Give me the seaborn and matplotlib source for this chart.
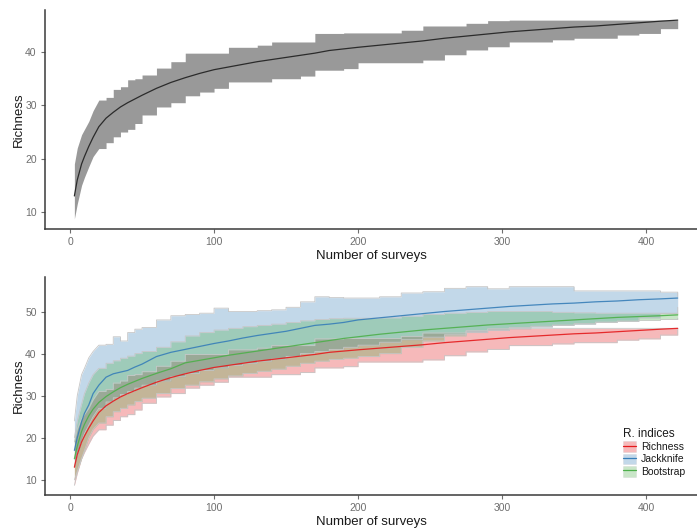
import numpy as np
import pandas as pd
import matplotlib
matplotlib.use("Agg")
import matplotlib.pyplot as plt
import seaborn as sns
from matplotlib.patches import Patch
from matplotlib.lines import Line2D

# ---------------- data ----------------
surveys = [3, 5, 8, 10, 13, 16, 20, 25, 30, 35, 40, 45, 50, 60, 70, 80, 90, 100,
           110, 120, 130, 140, 150, 160, 170, 180, 190, 200, 215, 230, 245, 260,
           275, 290, 305, 320, 335, 350, 365, 380, 395, 410, 422]

richness_mean = [13, 16, 19, 20.4, 22.3, 24, 26, 27.6, 28.7, 29.7, 30.5, 31.2, 31.9,
                 33.2, 34.3, 35.2, 36, 36.7, 37.2, 37.7, 38.2, 38.6, 39, 39.4, 39.8,
                 40.3, 40.6, 40.9, 41.3, 41.7, 42.1, 42.6, 43, 43.4, 43.8, 44.1, 44.4,
                 44.7, 44.9, 45.2, 45.5, 45.8, 46]
richness_upper = [19, 22, 24.5, 25.5, 27, 29, 31, 31.5, 33, 33.5, 34.8, 35, 35.7,
                  37, 38.2, 39.8, 39.8, 39.8, 40.9, 40.9, 41.3, 41.9, 41.9, 41.9, 43.5,
                  43.5, 43.6, 43.6, 43.6, 44.1, 44.9, 44.9, 45.4, 45.9, 46, 46, 46,
                  46, 46, 46, 46, 46, 46]
richness_lower = [8.7, 11.5, 15, 16.5, 18.5, 20.4, 21.9, 23, 24.1, 25, 25.5, 26.6, 28.2,
                  29.7, 30.5, 31.8, 32.5, 33.2, 34.4, 34.4, 34.4, 35, 35, 35.5, 36.6,
                  36.6, 36.9, 38, 38, 38, 38.5, 39.5, 40.4, 41, 41.9, 41.9, 42.3,
                  42.6, 42.6, 43.2, 43.5, 44.4, 46]

jack_mean = [17, 20, 23.8, 25.8, 27.8, 30.5, 32.5, 34.4, 35.2, 35.6, 36, 36.8, 37.5,
             39.3, 40.3, 41, 41.7, 42.4, 43, 43.7, 44.3, 44.8, 45.3, 46, 46.7, 47,
             47.4, 48, 48.5, 49, 49.5, 50, 50.4, 50.8, 51.2, 51.5, 51.8, 52, 52.3,
             52.5, 52.8, 53, 53.2]
jack_upper = [24, 30, 35, 36.5, 39, 40.5, 42, 42.2, 44, 43, 45, 45.8, 46.2, 48, 49,
              49.3, 49.6, 50.8, 50, 50, 50.2, 50.4, 51, 52.3, 53.5, 53.3, 53.2, 53.2,
              53.5, 54.4, 54.7, 55.5, 55.9, 55.4, 55.9, 55.9, 55.9, 54.9, 54.9, 54.9,
              54.9, 54.6, 53.5]
jack_lower = [13, 16, 19, 21, 23, 25, 27, 28.5, 29.5, 30.3, 31, 31.8, 32.5, 33.5,
              34.5, 35.3, 36, 36.6, 37.2, 37.7, 38.2, 38.7, 39.3, 40, 40.5, 41, 41.5,
              42, 42.7, 43.3, 43.9, 44.5, 45, 45.5, 45.9, 46.3, 46.7, 47, 47.4, 47.7,
              48.5, 49.5, 51]

boot_mean = [15, 18, 21.5, 23.2, 25.2, 26.8, 28.4, 29.8, 30.9, 31.9, 32.7, 33.4, 34.1,
             35.3, 36.4, 37.8, 38.4, 39, 39.6, 40.1, 40.6, 41.1, 41.6, 42.1, 42.6,
             43.1, 43.6, 44, 44.6, 45.1, 45.6, 46, 46.4, 46.8, 47.1, 47.4, 47.7, 48,
             48.3, 48.6, 48.8, 49, 49.2]
boot_upper = [20, 24, 28, 30.5, 33, 35, 36.5, 37.7, 38.3, 38.9, 39.4, 40, 40.5, 41.5,
              42.8, 44.2, 45, 45.6, 46, 46.4, 46.7, 47, 47.4, 47.8, 48.1, 48.3, 48.4,
              48.4, 48.5, 48.9, 49.3, 49.6, 49.8, 50, 50, 50, 49.8, 49.7, 49.6, 49.6,
              49.6, 49.6, 49.6]
boot_lower = [10, 12, 15, 17, 20, 22, 23.5, 25, 26.2, 27, 27.8, 28.6, 29.4, 30.5, 31.7,
              32.5, 33.3, 34, 34.7, 35.3, 35.8, 36.3, 37, 37.7, 38.2, 38.6, 38.9,
              39.3, 40, 41.5, 43, 44.2, 45.4, 45.8, 46.2, 46.5, 46.8, 47.1, 47.5,
              47.7, 47.9, 48.1, 48.4]

indices = ["Richness", "Jackknife", "Bootstrap"]
x_ticks = [0, 100, 200, 300, 400]
y_ticks_top = [10, 20, 30, 40]
y_ticks_bottom = [10, 20, 30, 40, 50]

# ---------------- styling ----------------
sns.set_theme(style="white")
plt.rcParams["font.family"] = ["Liberation Sans", "DejaVu Sans"]

palette = {"Richness": "#E41A1C", "Jackknife": "#377EB8", "Bootstrap": "#4DAF4A"}
tick_col = "#6e6e6e"
spine_col = "#3a3a3a"
edge_col = "#c6c6c6"

fig = plt.figure(figsize=(6.97, 5.29), dpi=100)
ax1 = fig.add_axes([45 / 697, 1 - 229 / 529, 652 / 697, 219 / 529])
ax2 = fig.add_axes([45 / 697, 1 - 495 / 529, 652 / 697, 218 / 529])

k = surveys.index(20)  # smooth start, stepped afterwards


def staircase(xv, yv):
    """Smooth path up to surveys==20, then a post-step path."""
    xs, ys = [], []
    n = len(xv)
    for i in range(n):
        xs.append(xv[i]); ys.append(yv[i])
        if i >= k and i + 1 < n:
            xs.append(xv[i + 1]); ys.append(yv[i])
    return np.array(xs, float), np.array(ys, float)


def ribbon(ax, lo, hi, edge=None, **kw):
    xs, los = staircase(surveys, lo)
    _, his = staircase(surveys, hi)
    ax.fill_between(xs, los, his, linewidth=0, **kw)
    if edge is not None:
        ax.plot(xs, los, color=edge, linewidth=0.6)
        ax.plot(xs, his, color=edge, linewidth=0.6)


# ---- top panel ----
ribbon(ax1, richness_lower, richness_upper, color="#999999")
df_top = pd.DataFrame({"surveys": surveys, "richness": richness_mean})
sns.lineplot(data=df_top, x="surveys", y="richness", ax=ax1,
             color="#2b2b2b", linewidth=0.9)

# ---- bottom panel ----
bands = {
    "Richness": (richness_lower, richness_upper, richness_mean),
    "Jackknife": (jack_lower, jack_upper, jack_mean),
    "Bootstrap": (boot_lower, boot_upper, boot_mean),
}
for name in indices:
    lo, hi, _ = bands[name]
    ribbon(ax2, lo, hi, edge=edge_col, facecolor=palette[name], alpha=0.3)

df_bot = pd.concat([
    pd.DataFrame({"surveys": surveys, "value": bands[n][2], "index": n})
    for n in indices
])
sns.lineplot(data=df_bot, x="surveys", y="value", hue="index", hue_order=indices,
             palette=palette, ax=ax2, linewidth=0.9, alpha=0.9, legend=False)

for ax, yt, ylim in [(ax1, y_ticks_top, (6.8, 47.9)),
                     (ax2, y_ticks_bottom, (6.4, 58.2))]:
    ax.set_xlim(-17.4, 435.4)
    ax.set_ylim(*ylim)
    ax.set_xticks(x_ticks)
    ax.set_yticks(yt)
    ax.set_xlabel("Number of surveys", fontsize=9.5, color="#1a1a1a", labelpad=2)
    ax.set_ylabel("Richness", fontsize=9.5, color="#1a1a1a", labelpad=0)
    ax.tick_params(axis="both", which="major", labelsize=7.5, colors=tick_col,
                   length=3, width=0.8, pad=3, left=True, bottom=True)
    for s in ["top", "right"]:
        ax.spines[s].set_visible(False)
    for s in ["left", "bottom"]:
        ax.spines[s].set_color(spine_col)
        ax.spines[s].set_linewidth(1.1)
    ax.grid(False)
    ax.set_facecolor("white")

# legend
handles = []
for name in indices:
    handles.append((Patch(facecolor=palette[name], alpha=0.3, edgecolor=edge_col,
                          linewidth=0.6),
                    Line2D([], [], color=palette[name], linewidth=0.9)))
leg = ax2.legend(handles, indices, title="R. indices", loc="lower left",
                 bbox_to_anchor=(619 / 697, 1 - 481 / 529),
                 bbox_transform=fig.transFigure, frameon=False, fontsize=7.5,
                 title_fontsize=8.5, handlelength=1.2, handleheight=1.2,
                 labelspacing=0.15, handletextpad=0.5, borderaxespad=0)
leg._legend_box.align = "left"
leg.get_title().set_color("#1a1a1a")
for t in leg.get_texts():
    t.set_color("#1a1a1a")

fig.savefig("out.png", dpi=100)
